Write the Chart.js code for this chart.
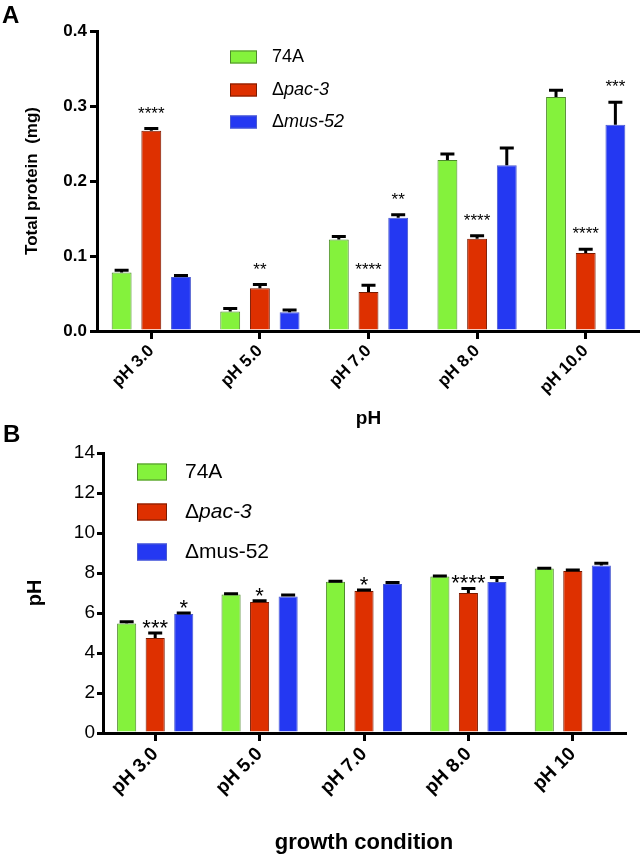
<!DOCTYPE html>
<html><head><meta charset="utf-8">
<script src="https://cdn.jsdelivr.net/npm/chart.js@4"></script>
<style>
html,body{margin:0;padding:0;background:#fff;}
body{width:640px;height:856px;position:relative;overflow:hidden;font-family:"Liberation Sans",Arial,sans-serif;}
#wa{position:absolute;left:0;top:0;width:640px;height:432px;}
#wb{position:absolute;left:0;top:432px;width:640px;height:424px;}
.pl{position:absolute;font-weight:bold;font-size:24px;line-height:1;color:#000;}
</style></head><body>
<div id="wa"><canvas id="ca"></canvas></div>
<div id="wb"><canvas id="cb"></canvas></div>
<div class="pl" style="left:2px;top:3px">A</div>
<div class="pl" style="left:3px;top:422px">B</div>
<script>
// ---------- data ----------
const seriesNames = ['74A', 'Δpac-3', 'Δmus-52'];

// Panel A: total protein (mg)
const categoriesA = ['pH 3.0', 'pH 5.0', 'pH 7.0', 'pH 8.0', 'pH 10.0'];
const proteinWT      = [0.078, 0.026, 0.122, 0.228, 0.312];
const proteinWTErr   = [0.003, 0.004, 0.004, 0.008, 0.009];
const proteinPac3    = [0.267, 0.057, 0.052, 0.123, 0.104];
const proteinPac3Err = [0.003, 0.005, 0.009, 0.004, 0.005];
const proteinMus52   = [0.072, 0.025, 0.151, 0.221, 0.275];
const proteinMus52Err= [0.002, 0.003, 0.004, 0.023, 0.030];
const sigAWT    = ['', '', '', '', ''];
const sigAPac3  = ['****', '**', '****', '****', '****'];
const sigAMus52 = ['', '', '**', '', '***'];
const ticksA = [0.0, 0.1, 0.2, 0.3, 0.4];

// Panel B: final pH
const categoriesB = ['pH 3.0', 'pH 5.0', 'pH 7.0', 'pH 8.0', 'pH 10'];
const phWT      = [5.48, 6.92, 7.56, 7.82, 8.22];
const phWTErr   = [0.08, 0.04, 0.03, 0.03, 0.02];
const phPac3    = [4.75, 6.55, 7.10, 7.00, 8.10];
const phPac3Err = [0.25, 0.06, 0.05, 0.23, 0.05];
const phMus52   = [5.95, 6.82, 7.45, 7.55, 8.37];
const phMus52Err= [0.05, 0.08, 0.07, 0.22, 0.12];
const sigBWT    = ['', '', '', '', ''];
const sigBPac3  = ['***', '*', '*', '****', ''];
const sigBMus52 = ['*', '', '', '', ''];
const ticksB = [0, 2, 4, 6, 8, 10, 12, 14];

// ---------- styles ----------
const FONT = '"Liberation Sans", Arial, sans-serif';
const fills   = ['#84F23C', '#DE3000', '#2438F2'];
const borders = ['#4E8A2C', '#7A1A00', '#4A5AD0'];

const errorBarsPlugin = {
  id: 'errorBars',
  afterDatasetsDraw(chart, args, opts) {
    const ctx = chart.ctx, ys = chart.scales.y;
    chart.data.datasets.forEach((ds, i) => {
      const meta = chart.getDatasetMeta(i);
      meta.data.forEach((bar, j) => {
        const v = ds.data[j], e = ds.errors[j];
        const yTop = ys.getPixelForValue(v + e);
        const yB = ys.getPixelForValue(v);
        ctx.save();
        ctx.strokeStyle = '#000';
        ctx.lineWidth = opts.lineWidth;
        ctx.beginPath();
        ctx.moveTo(bar.x, yB); ctx.lineTo(bar.x, yTop);
        ctx.moveTo(bar.x - opts.cap / 2, yTop); ctx.lineTo(bar.x + opts.cap / 2, yTop);
        ctx.stroke();
        const s = ds.sig && ds.sig[j];
        if (s) {
          ctx.fillStyle = '#000';
          ctx.font = opts.starFont;
          ctx.textAlign = 'center';
          ctx.textBaseline = 'alphabetic';
          ctx.fillText(s, bar.x, yTop - opts.starGap);
        }
        ctx.restore();
      });
    });
  }
};

const legendPlugin = {
  id: 'boxLegend',
  afterDraw(chart, args, o) {
    const ctx = chart.ctx;
    chart.data.datasets.forEach((ds, i) => {
      const cy = o.ys[i];
      ctx.save();
      ctx.fillStyle = ds.backgroundColor;
      ctx.fillRect(o.x, cy - o.boxH / 2, o.boxW, o.boxH);
      ctx.strokeStyle = ds.borderColor;
      ctx.lineWidth = 1;
      ctx.strokeRect(o.x + 0.5, cy - o.boxH / 2 + 0.5, o.boxW - 1, o.boxH - 1);
      ctx.fillStyle = '#000';
      ctx.textBaseline = 'middle';
      ctx.textAlign = 'left';
      let tx = o.x + o.boxW + o.gap;
      const label = ds.label;
      if (o.italic[i] && label.startsWith('Δ')) {
        ctx.font = o.size + 'px ' + FONT;
        ctx.fillText('Δ', tx, cy);
        tx += ctx.measureText('Δ').width;
        ctx.font = 'italic ' + o.size + 'px ' + FONT;
        ctx.fillText(label.slice(1), tx, cy);
      } else {
        ctx.font = o.size + 'px ' + FONT;
        ctx.fillText(label, tx, cy);
      }
      ctx.restore();
    });
  }
};

function makeDatasets(vals, errs, sigs) {
  return vals.map((v, i) => ({
    label: seriesNames[i],
    data: v,
    errors: errs[i],
    sig: sigs[i],
    backgroundColor: fills[i],
    borderColor: borders[i],
    borderWidth: 1,
    borderSkipped: 'bottom',
    categoryPercentage: 0.82,
    barPercentage: 0.67
  }));
}

function axisOpts(cfg) {
  return {
    x: {
      offset: true,
      grid: { display: true, drawOnChartArea: false, offset: false, color: '#000', lineWidth: 3, tickLength: 8 },
      border: { display: true, color: '#000', width: 3 },
      ticks: { color: '#000', font: { family: FONT, weight: 'bold', size: cfg.xTickSize }, minRotation: 45, maxRotation: 45, padding: cfg.xTickPad, autoSkip: false },
      title: { display: true, text: cfg.xTitle, color: '#000', font: { family: FONT, weight: 'bold', size: cfg.xTitleSize }, padding: { top: 0, bottom: cfg.xTitlePadB } },
      afterFit: s => { s.height = cfg.xHeight; }
    },
    y: {
      min: cfg.yTicks[0], max: cfg.yTicks[cfg.yTicks.length - 1],
      afterBuildTicks: s => { s.ticks = cfg.yTicks.map(v => ({ value: v })); },
      grid: { display: true, drawOnChartArea: false, color: '#000', lineWidth: 3, tickLength: cfg.yTickLen },
      border: { display: true, color: '#000', width: 3 },
      ticks: { color: '#000', font: { family: FONT, weight: cfg.yTickWeight, size: cfg.yTickSize }, padding: cfg.yTickPad, callback: cfg.yFmt },
      title: { display: true, text: cfg.yTitle, color: '#000', font: { family: FONT, weight: 'bold', size: cfg.yTitleSize }, padding: { top: cfg.yTitlePadT, bottom: 0 } },
      afterFit: s => { s.width = cfg.yWidth; }
    }
  };
}

new Chart(document.getElementById('ca'), {
  type: 'bar',
  data: {
    labels: categoriesA,
    datasets: makeDatasets([proteinWT, proteinPac3, proteinMus52],
                           [proteinWTErr, proteinPac3Err, proteinMus52Err],
                           [sigAWT, sigAPac3, sigAMus52])
  },
  options: {
    responsive: true, maintainAspectRatio: false, animation: false,
    layout: { padding: { top: 31, right: 0, bottom: 0, left: 0 } },
    plugins: {
      legend: { display: false }, tooltip: { enabled: false },
      errorBars: { lineWidth: 3, cap: 14, starFont: '17px ' + FONT, starGap: 10 },
      boxLegend: { x: 230, ys: [57, 90, 122], boxW: 27, boxH: 13, gap: 15, size: 18, italic: [false, true, true] }
    },
    scales: axisOpts({
      xTitle: 'pH', xTitleSize: 19, xTitlePadB: 2, xTickSize: 17, xTickPad: 2, xHeight: 101,
      yTitle: 'Total protein  (mg)', yTitleSize: 17, yTitlePadT: 22, yTickSize: 17, yTickWeight: 'bold',
      yTickPad: 3, yTickLen: 7, yWidth: 97, yTicks: ticksA, yFmt: v => Number(v).toFixed(1)
    })
  },
  plugins: [errorBarsPlugin, legendPlugin]
});

new Chart(document.getElementById('cb'), {
  type: 'bar',
  data: {
    labels: categoriesB,
    datasets: makeDatasets([phWT, phPac3, phMus52],
                           [phWTErr, phPac3Err, phMus52Err],
                           [sigBWT, sigBPac3, sigBMus52])
  },
  options: {
    responsive: true, maintainAspectRatio: false, animation: false,
    layout: { padding: { top: 21, right: 15, bottom: 0, left: 0 } },
    plugins: {
      legend: { display: false }, tooltip: { enabled: false },
      errorBars: { lineWidth: 3, cap: 14, starFont: '22px ' + FONT, starGap: -2 },
      boxLegend: { x: 137, ys: [40, 80, 120], boxW: 30, boxH: 17, gap: 18, size: 21, italic: [false, true, false] }
    },
    scales: axisOpts({
      xTitle: 'growth condition', xTitleSize: 22, xTitlePadB: 0, xTickSize: 19, xTickPad: 2, xHeight: 123,
      yTitle: 'pH', yTitleSize: 20, yTitlePadT: 23, yTickSize: 19, yTickWeight: 'normal',
      yTickPad: 2, yTickLen: 6, yWidth: 103, yTicks: ticksB, yFmt: v => String(v)
    })
  },
  plugins: [errorBarsPlugin, legendPlugin]
});
</script>
</body></html>
